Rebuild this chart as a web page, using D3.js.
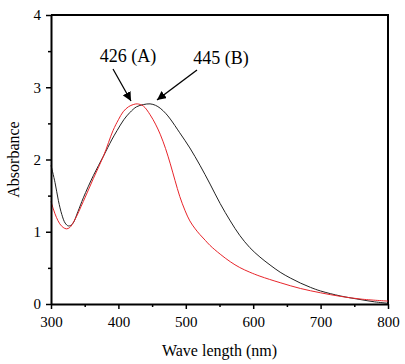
<!DOCTYPE html>
<html>
<head>
<meta charset="utf-8">
<script src="https://cdn.jsdelivr.net/npm/d3@7/dist/d3.min.js"></script>
<style>
  html, body { margin: 0; padding: 0; background: #fff; }
  svg { display: block; }
  text { font-family: "Liberation Serif", "Times New Roman", serif; fill: #000; }
</style>
</head>
<body>
<svg id="chart" width="405" height="364"></svg>
<script>
// Data
const wavelengthB = [300,306,311,316,321,326,332,340,348,363,378,390,398,408,417,427,437,447,455,462,470,477,491,506,521,536,551,566,580,595,610,625,640,655,670,685,700,730,760,780,800];
const absorbanceB = [1.92,1.68,1.43,1.24,1.12,1.08,1.11,1.28,1.47,1.78,2.05,2.27,2.40,2.55,2.65,2.73,2.76,2.77,2.75,2.71,2.64,2.56,2.37,2.16,1.92,1.66,1.39,1.15,0.95,0.78,0.65,0.54,0.44,0.36,0.29,0.23,0.18,0.11,0.06,0.03,0.01];

const wavelengthA = [300,304,308,313,318,323,328,335,348,363,378,392,400,407,415,422,428,437,447,455,462,470,477,484,491,499,506,514,521,529,536,551,566,580,595,610,640,670,700,730,760,800];
const absorbanceA = [1.42,1.30,1.20,1.11,1.06,1.04,1.06,1.16,1.42,1.74,2.05,2.40,2.55,2.66,2.73,2.76,2.77,2.74,2.62,2.49,2.35,2.15,1.94,1.71,1.49,1.29,1.15,1.04,0.96,0.88,0.81,0.69,0.585,0.505,0.44,0.385,0.295,0.215,0.155,0.105,0.068,0.04];

const xTicks = [300,400,500,600,700,800];
const xMinorTicks = [350,450,550,650,750];
const yTicks = [0,1,2,3,4];
const yMinorTicks = [0.5,1.5,2.5,3.5];

const annotations = [
  {label: "426 (A)", tx: 128, ty: 62, x1: 113, y1: 69, x2: 131, y2: 101},
  {label: "445 (B)", tx: 221, ty: 64, x1: 197, y1: 70, x2: 157, y2: 100}
];

const svg = d3.select("#chart");
const L = 51, R = 388, T = 15, B = 304;

const x = d3.scaleLinear().domain([300, 800]).range([L, R]);
const y = d3.scaleLinear().domain([0, 4]).range([B, T]);

// frame top/right
svg.append("path")
  .attr("d", `M${L},${T}H${R}V${B}`)
  .attr("fill", "none").attr("stroke", "#000").attr("stroke-width", 2);

// curves
const line = (xs, ys) => d3.line()
  .x((d, i) => x(xs[i])).y((d, i) => y(ys[i]))
  .curve(d3.curveCatmullRom.alpha(0.5))(xs);

svg.append("path").attr("d", line(wavelengthB, absorbanceB))
  .attr("fill", "none").attr("stroke", "#222").attr("stroke-width", 1);
svg.append("path").attr("d", line(wavelengthA, absorbanceA))
  .attr("fill", "none").attr("stroke", "#e8252b").attr("stroke-width", 1);

// x axis
const gx = svg.append("g").attr("transform", `translate(0,${B})`)
  .call(d3.axisBottom(x).tickValues(xTicks).tickFormat(d3.format("d")).tickSizeInner(5).tickSizeOuter(0).tickPadding(7));
gx.append("g").call(d3.axisBottom(x).tickValues(xMinorTicks).tickFormat("").tickSizeInner(3).tickSizeOuter(0))
  .select(".domain").remove();
gx.selectAll(".domain").attr("stroke-width", 2);
gx.selectAll(".tick line").attr("stroke-width", 1.5);
gx.selectAll("text").style("font-size", "15px").style("font-family", "Liberation Serif");

// y axis
const gy = svg.append("g").attr("transform", `translate(${L},0)`)
  .call(d3.axisLeft(y).tickValues(yTicks).tickFormat(d3.format("d")).tickSizeInner(5).tickSizeOuter(0).tickPadding(5));
gy.append("g").call(d3.axisLeft(y).tickValues(yMinorTicks).tickFormat("").tickSizeInner(3).tickSizeOuter(0))
  .select(".domain").remove();
gy.selectAll(".domain").attr("stroke-width", 2);
gy.selectAll(".tick line").attr("stroke-width", 1.5);
gy.selectAll("text").style("font-size", "15px").style("font-family", "Liberation Serif");

// axis titles
svg.append("text").attr("x", (L + R) / 2).attr("y", 356)
  .attr("text-anchor", "middle").style("font-size", "16px").text("Wave length (nm)");
svg.append("text").attr("transform", `translate(19,${(T + B) / 2}) rotate(-90)`)
  .attr("text-anchor", "middle").style("font-size", "16px").text("Absorbance");

// arrow marker
svg.append("defs").append("marker")
  .attr("id", "ah").attr("viewBox", "0 0 10 10").attr("refX", 10).attr("refY", 5)
  .attr("markerWidth", 9).attr("markerHeight", 9).attr("markerUnits", "userSpaceOnUse")
  .attr("orient", "auto")
  .append("path").attr("d", "M0,0L10,5L0,10z").attr("fill", "#000");

annotations.forEach(a => {
  svg.append("text").attr("x", a.tx).attr("y", a.ty).attr("text-anchor", "middle")
    .style("font-size", "18px").text(a.label);
  svg.append("line").attr("x1", a.x1).attr("y1", a.y1).attr("x2", a.x2).attr("y2", a.y2)
    .attr("stroke", "#000").attr("stroke-width", 1.3).attr("marker-end", "url(#ah)");
});
</script>
</body>
</html>
